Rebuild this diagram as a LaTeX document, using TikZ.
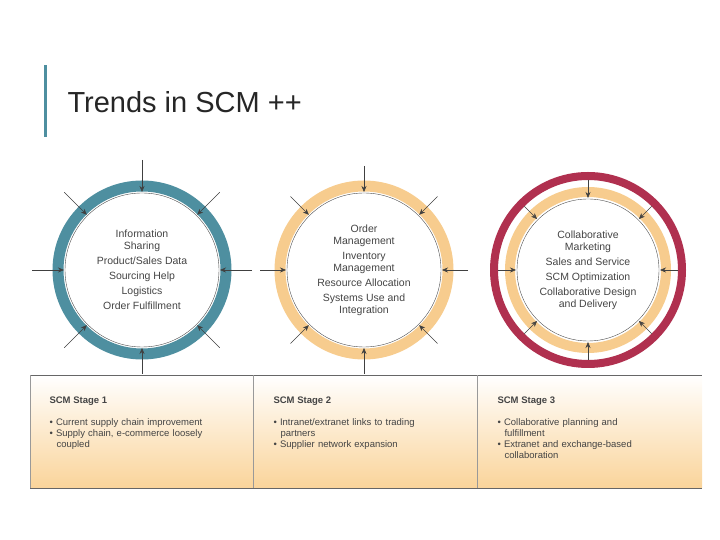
\documentclass[tikz,border=0pt]{standalone}
\usepackage{fontspec}
\setmainfont{Liberation Sans}
\usetikzlibrary{arrows.meta,calc}
\definecolor{teal1}{HTML}{4E8FA0}
\definecolor{or1}{HTML}{F7CC8E}
\definecolor{red1}{HTML}{B0304F}
\definecolor{txt}{HTML}{444444}
\definecolor{botor}{HTML}{FAD49A}
\tikzset{
 ctext/.style={align=center,font=\fontsize{10.5}{15}\selectfont,text=txt},
 inarrow/.style={-{Stealth[length=6pt,width=5pt]},draw=black!75,line width=0.5pt},
 hd/.style={anchor=north west,font=\bfseries\fontsize{9.5}{11}\selectfont,text=txt},
 bl/.style={anchor=north west,align=left,font=\fontsize{9.5}{11}\selectfont,text=txt,text width=215pt}
}
\begin{document}
\begin{tikzpicture}[x=1pt,y=1pt]
\useasboundingbox (0,0) rectangle (720,540);
\fill[teal1] (44,403) rectangle (47,475);
\node[anchor=west,font=\fontsize{29}{32}\selectfont,text=black!85] (title) at (64,438) {Trends in SCM ++};
% circle 1
\coordinate (c1) at (142,270);
\draw[teal1,line width=11pt] (c1) circle (84);
\draw[black!70,line width=0.4pt] (c1) circle (77);
\foreach \a in {0,45,...,315}{\draw[inarrow] ($(c1)+(\a:110)$) -- ($(c1)+(\a:78)$);}
\node[ctext] (t1) at (c1) {Information\\[-3pt]Sharing\\Product/Sales Data\\Sourcing Help\\Logistics\\Order Fulfillment};
% circle 2
\coordinate (c2) at (364,270);
\draw[or1,line width=11pt] (c2) circle (84);
\draw[black!70,line width=0.4pt] (c2) circle (77);
\foreach \a in {0,45,...,315}{\draw[inarrow] ($(c2)+(\a:104)$) -- ($(c2)+(\a:78)$);}
\node[ctext] (t2) at (c2) {Order\\[-3pt]Management\\Inventory\\[-3pt]Management\\Resource Allocation\\Systems Use and\\[-3pt]Integration};
% circle 3
\coordinate (c3) at (588,270);
\draw[red1,line width=8pt] (c3) circle (94);
\draw[or1,line width=10pt] (c3) circle (78);
\draw[black!70,line width=0.4pt] (c3) circle (71);
\foreach \a in {0,45,...,315}{\draw[inarrow] ($(c3)+(\a:90)$) -- ($(c3)+(\a:72)$);}
\node[ctext] (t3) at (c3) {Collaborative\\[-3pt]Marketing\\Sales and Service\\SCM Optimization\\Collaborative Design\\[-3pt]and Delivery};
% table
\shade[top color=white,bottom color=botor] (30,52) rectangle (702,165);
\draw[black!60,line width=0.6pt] (30,165) -- (702,165);
\draw[black!60,line width=0.6pt] (30,52) -- (702,52);
\draw[black!40,line width=0.5pt] (30,52) -- (30,165);
\draw[black!40,line width=0.5pt] (253,52) -- (253,165);
\draw[black!40,line width=0.5pt] (477,52) -- (477,165);
\node[hd] (h1) at (46,147) {SCM Stage 1};
\node[hd] (h2) at (270,147) {SCM Stage 2};
\node[hd] (h3) at (494,147) {SCM Stage 3};
\node[bl] (b1) at (46,125) {• Current supply chain improvement\\• Supply chain, e-commerce loosely\\\hspace*{7pt}coupled};
\node[bl] (b2) at (270,125) {• Intranet/extranet links to trading\\\hspace*{7pt}partners\\• Supplier network expansion};
\node[bl] (b3) at (494,125) {• Collaborative planning and\\\hspace*{7pt}fulfillment\\• Extranet and exchange-based\\\hspace*{7pt}collaboration};
\end{tikzpicture}
\end{document}
